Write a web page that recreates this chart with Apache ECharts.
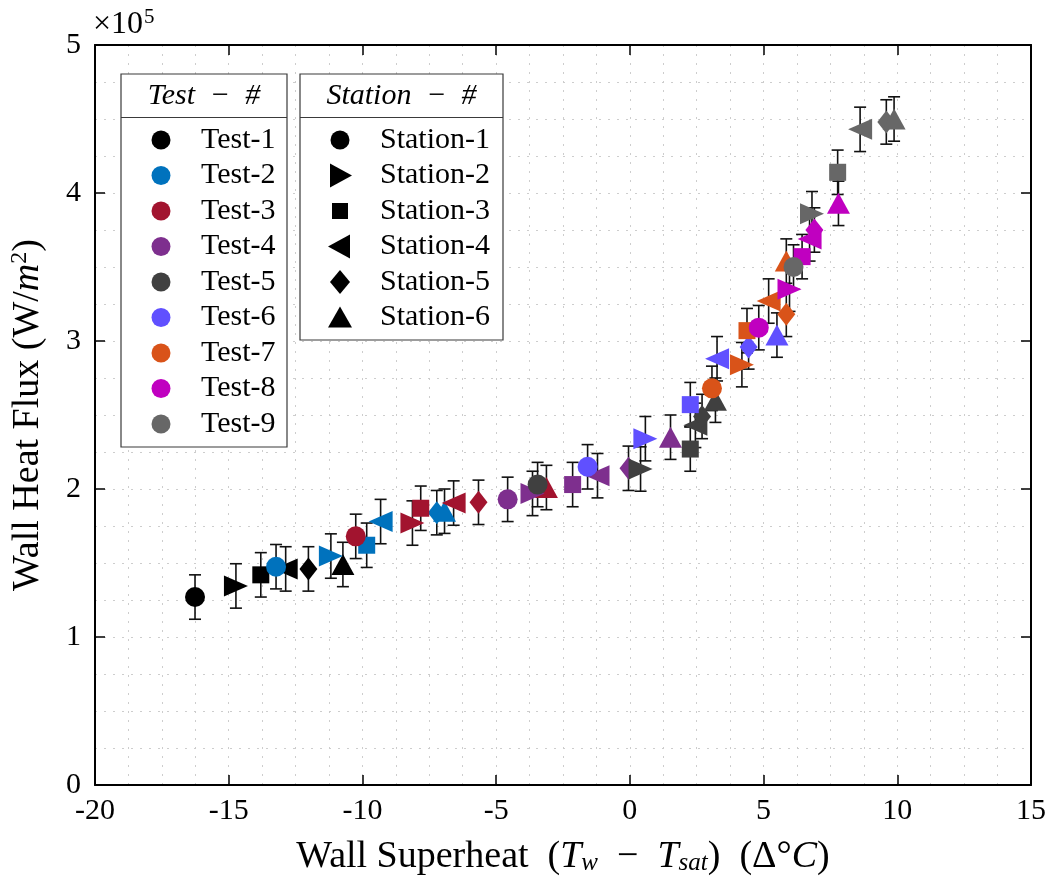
<!DOCTYPE html>
<html>
<head>
<meta charset="utf-8">
<script src="https://cdn.jsdelivr.net/npm/echarts@6/dist/echarts.min.js"></script>
<style>
html,body{margin:0;padding:0;background:#fff;}
#chart{width:1052px;height:891px;}
</style>
</head>
<body>
<div id="chart"></div>
<script>
// ---- DATA (heat flux in units of 1e5 W/m^2) ----
const tests = ['Test-1','Test-2','Test-3','Test-4','Test-5','Test-6','Test-7','Test-8','Test-9'];
const stations = ['Station-1','Station-2','Station-3','Station-4','Station-5','Station-6'];
const xTicks = [-20,-15,-10,-5,0,5,10,15];
const yTicks = [0,1,2,3,4,5];

// wall superheat per station (1..6) for each test
const test1X = [-16.26,-14.73,-13.80,-12.87,-12.02,-10.73];
const test2X = [-13.23,-11.18,-9.84,-9.32,-7.22,-6.93];
const test3X = [-10.25,-8.13,-7.82,-6.59,-5.66,-3.12];
const test4X = [-4.57,-3.64,-2.14,-1.21,-0.05,1.52];
const test5X = [-3.45,0.40,2.26,2.45,2.70,3.20];
const test6X = [-1.58,0.58,2.26,3.26,4.44,5.50];
const test7X = [3.07,4.19,4.38,5.19,5.85,5.85];
const test8X = [4.82,5.97,6.44,6.72,6.90,7.80];
const test9X = [6.12,6.81,7.77,8.61,9.59,9.88];

// wall heat flux (x1e5) per station
const test1Y = [1.27,1.345,1.42,1.46,1.46,1.49];
const test2Y = [1.475,1.547,1.62,1.78,1.84,1.85];
const test3Y = [1.68,1.77,1.87,1.905,1.91,2.01];
const test4Y = [1.93,1.97,2.03,2.09,2.14,2.35];
const test5Y = [2.03,2.135,2.27,2.43,2.49,2.60];
const test6Y = [2.15,2.34,2.57,2.88,2.96,3.04];
const test7Y = [2.68,2.84,3.07,3.27,3.18,3.54];
const test8Y = [3.09,3.35,3.57,3.69,3.75,3.93];
const test9Y = [3.50,3.86,4.14,4.43,4.48,4.50];

// error bar half-height (x1e5)
const fluxError = 0.15;

// ---- STYLE ----
const testColors = ['#000000','#0072BD','#A2142F','#7E2F8E','#404040','#6050FF','#D95319','#C000C0','#676767'];
const stationSymbols = ['circle','triangle','rect','triangle','diamond','triangle'];
const stationRotate = [0,-90,0,90,0,0];
const stationSizes = [20,[21,24],17,[21,24],[18,23],[23,21]];
const FONT = 'Liberation Serif';

const allX = [test1X,test2X,test3X,test4X,test5X,test6X,test7X,test8X,test9X];
const allY = [test1Y,test2Y,test3Y,test4Y,test5Y,test6Y,test7Y,test8Y,test9Y];

const chart = echarts.init(document.getElementById('chart'));

const series = [];
tests.forEach((name, i) => {
  series.push({
    type: 'custom',
    xAxisIndex: 0, yAxisIndex: 0,
    silent: true,
    data: allX[i].map((x, j) => [x, allY[i][j] - fluxError, allY[i][j] + fluxError]),
    renderItem: function (params, api) {
      const x = api.value(0);
      const top = api.coord([x, api.value(2)]);
      const bot = api.coord([x, api.value(1)]);
      const hw = 6;
      const st = {stroke: '#111', lineWidth: 1.6};
      return {type: 'group', children: [
        {type: 'line', shape: {x1: top[0], y1: top[1], x2: bot[0], y2: bot[1]}, style: st},
        {type: 'line', shape: {x1: top[0]-hw, y1: top[1], x2: top[0]+hw, y2: top[1]}, style: st},
        {type: 'line', shape: {x1: bot[0]-hw, y1: bot[1], x2: bot[0]+hw, y2: bot[1]}, style: st}
      ]};
    },
    z: 2
  });
  series.push({
    type: 'scatter',
    name: name,
    xAxisIndex: 0, yAxisIndex: 0,
    data: allX[i].map((x, j) => ({
      value: [x, allY[i][j]],
      symbol: stationSymbols[j],
      symbolRotate: stationRotate[j],
      symbolSize: stationSizes[j]
    })),
    itemStyle: {color: testColors[i], opacity: 1},
    z: 2
  });
});

// ---- Legend graphics ----
const graphics = [];
const boxStroke = '#3a3a3a';
const LFS = 30;
// Test legend box
const L1 = {x: 121, y: 74, w: 166, h: 373};
graphics.push({type: 'rect', shape: {x: L1.x, y: L1.y, width: L1.w, height: L1.h}, style: {fill: '#fff', stroke: boxStroke, lineWidth: 1.2}, z: 10});
graphics.push({type: 'line', shape: {x1: L1.x, y1: 117.5, x2: L1.x + L1.w, y2: 117.5}, style: {stroke: boxStroke, lineWidth: 1.2}, z: 11});
graphics.push({type: 'text', x: L1.x + L1.w/2, y: 96, style: {text: 'Test  −  #', font: 'italic ' + LFS + 'px ' + FONT, fill: '#000', textAlign: 'center', textVerticalAlign: 'middle'}, z: 11});
tests.forEach((t, i) => {
  const cy = 140 + i * 35.5;
  graphics.push({type: 'circle', shape: {cx: 161, cy: cy, r: 9.5}, style: {fill: testColors[i]}, z: 11});
  graphics.push({type: 'text', x: 201, y: cy, style: {text: t, font: LFS + 'px ' + FONT, fill: '#000', textAlign: 'left', textVerticalAlign: 'middle'}, z: 11});
});
// Station legend box
const L2 = {x: 300, y: 74, w: 203, h: 266};
graphics.push({type: 'rect', shape: {x: L2.x, y: L2.y, width: L2.w, height: L2.h}, style: {fill: '#fff', stroke: boxStroke, lineWidth: 1.2}, z: 10});
graphics.push({type: 'line', shape: {x1: L2.x, y1: 117.5, x2: L2.x + L2.w, y2: 117.5}, style: {stroke: boxStroke, lineWidth: 1.2}, z: 11});
graphics.push({type: 'text', x: L2.x + L2.w/2, y: 96, style: {text: 'Station  −  #', font: 'italic ' + LFS + 'px ' + FONT, fill: '#000', textAlign: 'center', textVerticalAlign: 'middle'}, z: 11});
const mx = 340;
stations.forEach((s, j) => {
  const cy = 140 + j * 35.5;
  let shp;
  if (j === 0) shp = {type: 'circle', shape: {cx: mx, cy: cy, r: 9.5}};
  else if (j === 1) shp = {type: 'polygon', shape: {points: [[mx-10, cy-12], [mx+12, cy], [mx-10, cy+12]]}};
  else if (j === 2) shp = {type: 'rect', shape: {x: mx-8, y: cy-8, width: 16, height: 16}};
  else if (j === 3) shp = {type: 'polygon', shape: {points: [[mx+10, cy-12], [mx-12, cy], [mx+10, cy+12]]}};
  else if (j === 4) shp = {type: 'polygon', shape: {points: [[mx, cy-12], [mx+10, cy], [mx, cy+12], [mx-10, cy]]}};
  else shp = {type: 'polygon', shape: {points: [[mx, cy-11], [mx+12, cy+10], [mx-12, cy+10]]}};
  shp.style = {fill: '#000'};
  shp.z = 11;
  graphics.push(shp);
  graphics.push({type: 'text', x: 380, y: cy, style: {text: s, font: LFS + 'px ' + FONT, fill: '#000', textAlign: 'left', textVerticalAlign: 'middle'}, z: 11});
});
// x10^5 multiplier
graphics.push({type: 'text', x: 93, y: 25, style: {
  text: '×10{s|5}', fill: '#000', font: '32px ' + FONT, textAlign: 'left', textVerticalAlign: 'middle',
  rich: {s: {fontSize: 21, fontFamily: FONT, verticalAlign: 'top', padding: [0,0,16,1]}}
}, z: 11});

const gridLine = {show: true, lineStyle: {color: '#cdcdcd', type: [2, 7], width: 1}};
const TFS = 38;

const option = {
  animation: false,
  backgroundColor: '#fff',
  grid: {left: 94, right: 21, top: 45, bottom: 106, containLabel: false},
  xAxis: [{
    type: 'value', min: -20, max: 15, interval: 5, position: 'bottom',
    axisLine: {show: true, onZero: false, lineStyle: {color: '#000', width: 2}},
    axisTick: {show: true, inside: true, length: 10, lineStyle: {color: '#000', width: 1.5}},
    minorTick: {show: false, splitNumber: 4},
    splitLine: gridLine, minorSplitLine: gridLine,
    axisLabel: {fontFamily: FONT, fontSize: 30, color: '#000', margin: 11, formatter: v => xTicks.includes(v) ? String(v) : ''},
    name: '{t|Wall Superheat  (}{i|T}{sub|w}{t|  −  }{i|T}{sub|sat}{t|)  (Δ°}{i|C}{t|)}',
    nameLocation: 'middle', nameGap: 53,
    nameTextStyle: {fontFamily: FONT, fontSize: TFS, color: '#000',
      rich: {t: {fontFamily: FONT, fontSize: TFS}, i: {fontFamily: FONT, fontSize: TFS, fontStyle: 'italic'}, sub: {fontFamily: FONT, fontSize: 25, fontStyle: 'italic', verticalAlign: 'bottom', padding: [12,0,0,0]}}}
  }, {
    type: 'value', min: -20, max: 15, interval: 5, position: 'top',
    axisLine: {show: true, onZero: false, lineStyle: {color: '#000', width: 2}},
    axisTick: {show: true, inside: true, length: 10, lineStyle: {color: '#000', width: 1.5}},
    axisLabel: {show: false}, splitLine: {show: false}
  }],
  yAxis: [{
    type: 'value', min: 0, max: 5, interval: 1, position: 'left',
    axisLine: {show: true, onZero: false, lineStyle: {color: '#000', width: 2}},
    axisTick: {show: true, inside: true, length: 10, lineStyle: {color: '#000', width: 1.5}},
    minorTick: {show: false, splitNumber: 4},
    splitLine: gridLine, minorSplitLine: gridLine,
    axisLabel: {fontFamily: FONT, fontSize: 30, color: '#000', margin: 14, formatter: v => yTicks.includes(v) ? String(v) : ''},
    name: '{t|Wall Heat Flux (W/}{i|m}{sup|2}{t|)}',
    nameLocation: 'middle', nameGap: 46, nameRotate: 90,
    nameTextStyle: {fontFamily: FONT, fontSize: TFS, color: '#000',
      rich: {t: {fontFamily: FONT, fontSize: TFS}, i: {fontFamily: FONT, fontSize: TFS, fontStyle: 'italic'}, sup: {fontFamily: FONT, fontSize: 24, verticalAlign: 'top', padding: [0,0,17,0]}}}
  }, {
    type: 'value', min: 0, max: 5, interval: 1, position: 'right',
    axisLine: {show: true, onZero: false, lineStyle: {color: '#000', width: 2}},
    axisTick: {show: true, inside: true, length: 10, lineStyle: {color: '#000', width: 1.5}},
    axisLabel: {show: false}, splitLine: {show: false}
  }],
  series: series,
  graphic: graphics
};
chart.setOption(option);
</script>
</body>
</html>
